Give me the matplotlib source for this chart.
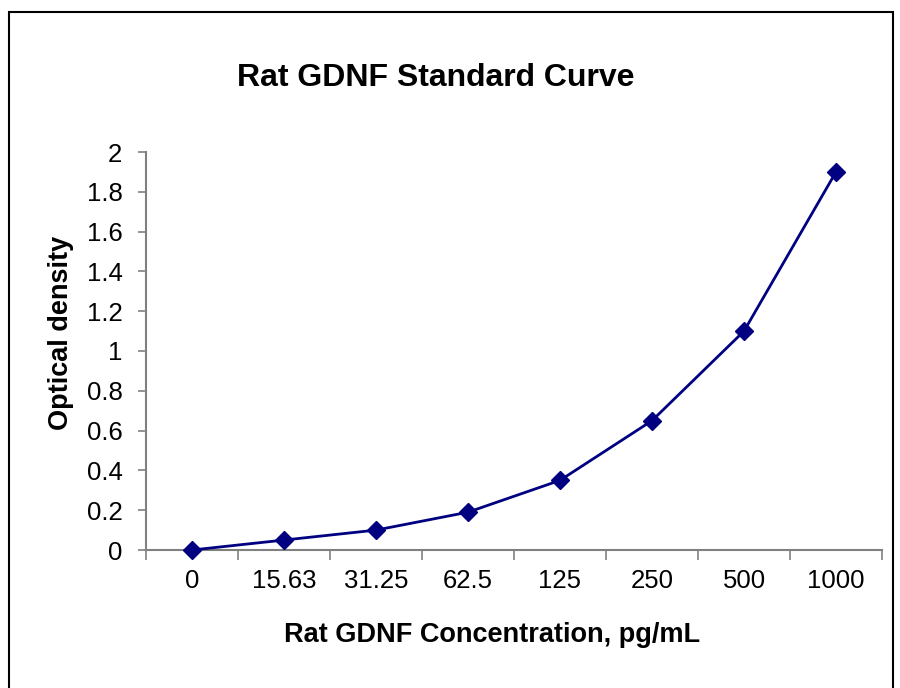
import matplotlib
matplotlib.use("Agg")
import matplotlib.pyplot as plt
from matplotlib.patches import Rectangle

categories = ["0", "15.63", "31.25", "62.5", "125", "250", "500", "1000"]
od_values = [0.0, 0.05, 0.10, 0.19, 0.35, 0.65, 1.10, 1.90]
y_ticks = [0, 0.2, 0.4, 0.6, 0.8, 1, 1.2, 1.4, 1.6, 1.8, 2]
y_tick_labels = ["0", "0.2", "0.4", "0.6", "0.8", "1", "1.2", "1.4", "1.6", "1.8", "2"]

plt.rcParams['font.family'] = ['Liberation Sans', 'DejaVu Sans']

fig = plt.figure(figsize=(9, 6.88), dpi=100)
ax = fig.add_axes([146/900, 1 - 550/688, (882-146)/900, (550-152)/688])

x = list(range(len(categories)))
ax.plot(x, od_values, color='#000080', lw=2, marker='D', markersize=9.5,
        markerfacecolor='#000080', markeredgecolor='#000080', clip_on=False, zorder=3)

ax.set_xlim(-0.5, len(categories) - 0.5)
ax.set_ylim(0, 2)
ax.set_yticks(y_ticks)
ax.set_yticklabels(y_tick_labels)
ax.set_xticks(x)
ax.set_xticklabels(categories)
ax.set_xticks([i - 0.5 for i in range(len(categories) + 1)], minor=True)
ax.tick_params(axis='x', which='major', length=0, pad=14, labelsize=18.5)
ax.tick_params(axis='x', which='minor', length=7, width=1.2, color='#808080', direction='out')
ax.tick_params(axis='y', length=6, width=1.2, color='#808080', direction='out', pad=11, labelsize=18.5)

for s in ['top', 'right']:
    ax.spines[s].set_visible(False)
for s in ['left', 'bottom']:
    ax.spines[s].set_color('#808080')
    ax.spines[s].set_linewidth(1.5)

fig.text(436/900, 1 - 78/688, "Rat GDNF Standard Curve", ha='center', va='center',
         fontsize=23, fontweight='bold')
fig.text(492/900, 1 - 635/688, "Rat GDNF Concentration, pg/mL", ha='center', va='center',
         fontsize=19.5, fontweight='bold')
fig.text(61/900, 1 - 333/688, "Optical density", ha='center', va='center',
         fontsize=19.5, fontweight='bold', rotation=90)

fig.patches.append(Rectangle((9/900, -0.05), (893-9)/900, 1.05 - 12/688,
                             transform=fig.transFigure, fill=False,
                             edgecolor='black', lw=1.5))

fig.savefig("out.png", dpi=100)
